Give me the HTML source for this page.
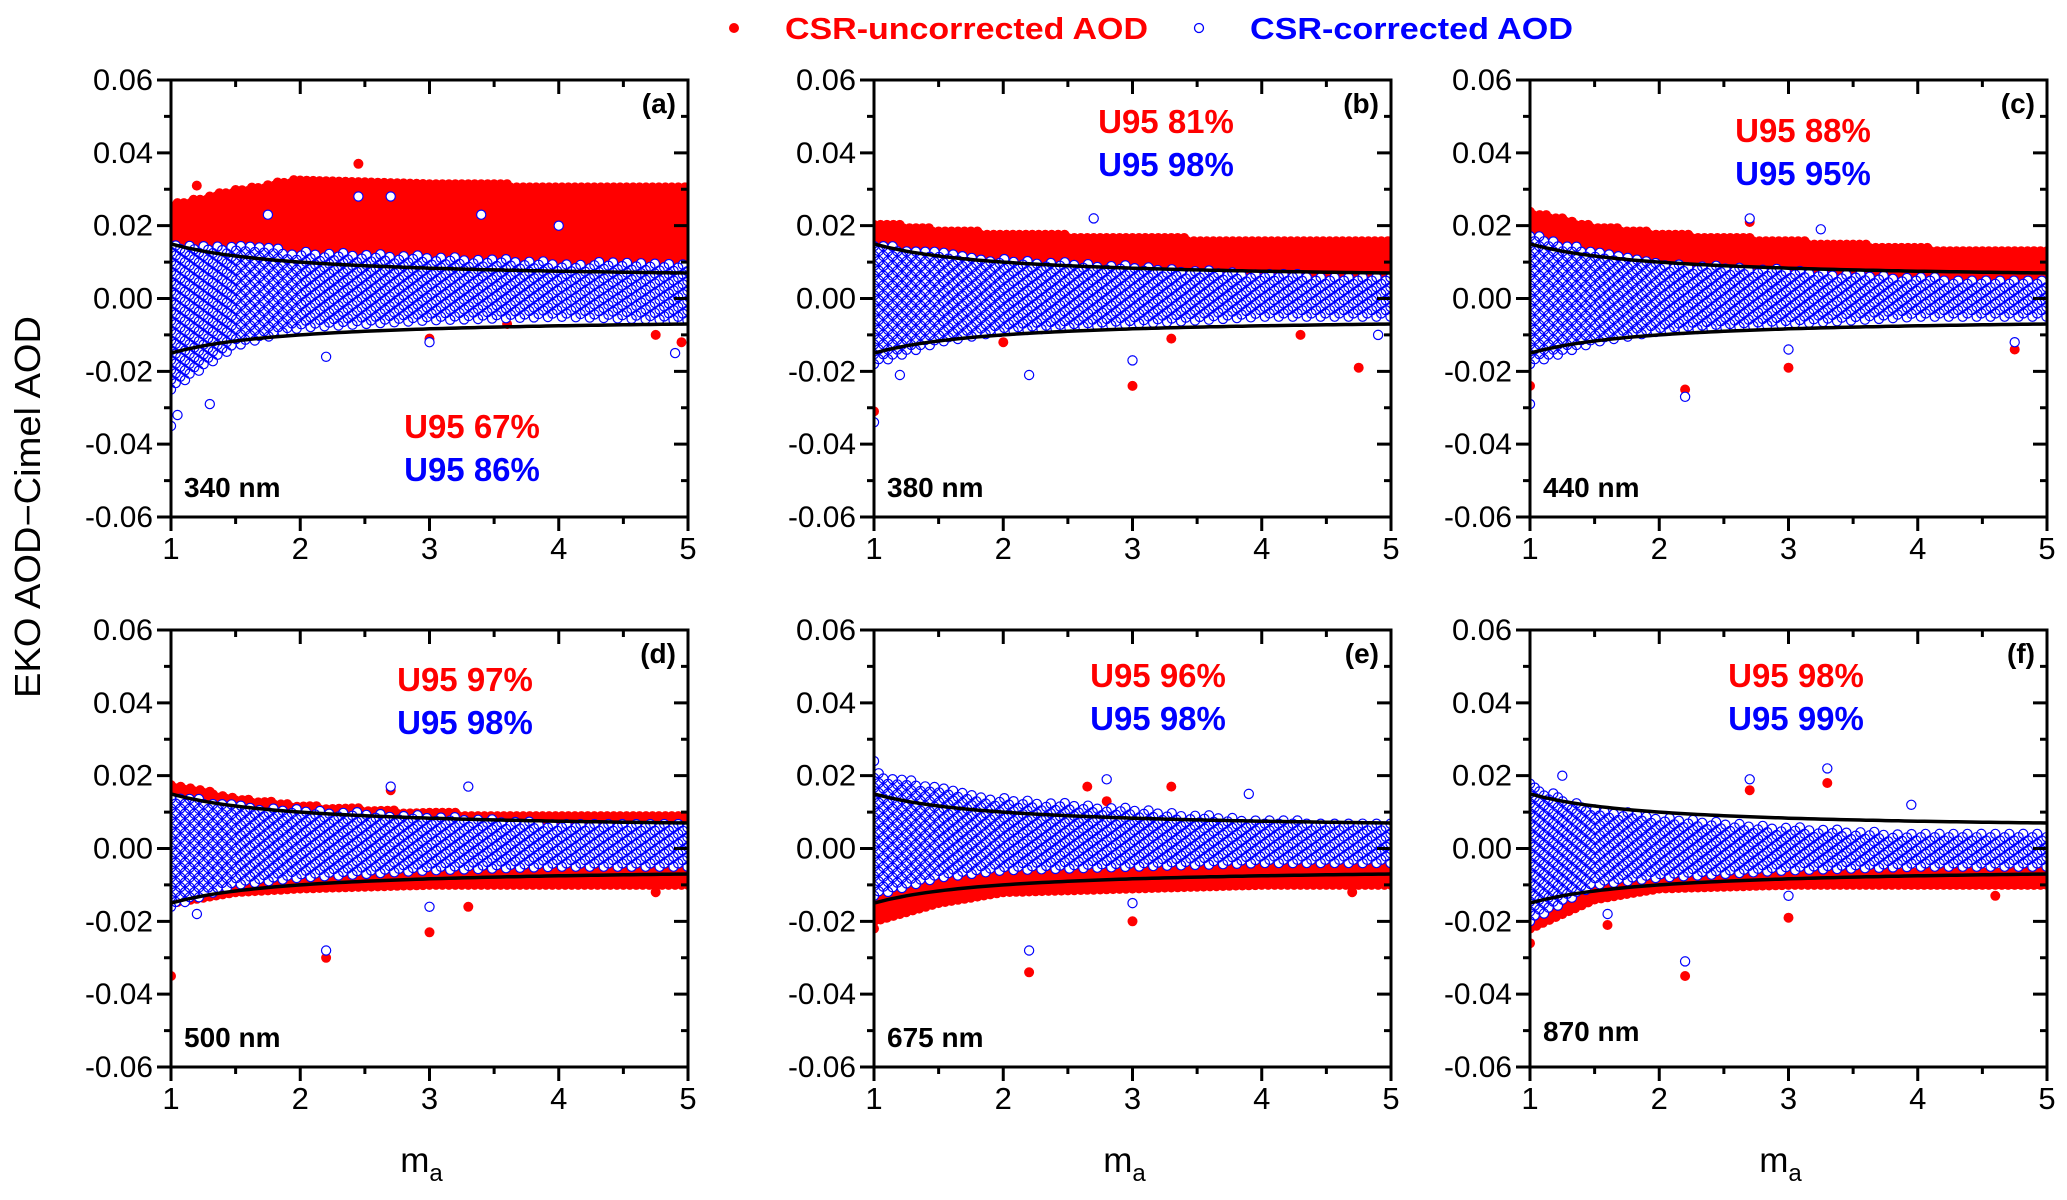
<!DOCTYPE html>
<html><head><meta charset="utf-8">
<style>
html,body{margin:0;padding:0;background:#fff;}
svg{display:block;font-family:"Liberation Sans Narrow","Liberation Sans",sans-serif;}
</style></head>
<body>
<svg id="fig" width="2067" height="1200" viewBox="0 0 2067 1200" xmlns="http://www.w3.org/2000/svg">
  <g>
    <circle cx="734" cy="28" r="5" fill="#ff0000"/>
    <text x="785" y="39" font-size="31" font-weight="bold" fill="#ff0000" textLength="363" lengthAdjust="spacingAndGlyphs">CSR-uncorrected AOD</text>
    <circle cx="1199" cy="28" r="4.5" fill="#fff" stroke="#0000ff" stroke-width="1.3"/>
    <text x="1250" y="39" font-size="31" font-weight="bold" fill="#0000ff" textLength="323" lengthAdjust="spacingAndGlyphs">CSR-corrected AOD</text>
  </g>
  <text transform="translate(40,507) rotate(-90)" text-anchor="middle" font-size="36" fill="#000" textLength="382" lengthAdjust="spacingAndGlyphs">EKO AOD−Cimel AOD</text>
  <g id="panels"></g>
</svg>
<script>
// ---- data ----
const maGrid = [1, 1.5, 2, 3, 4, 5];
const yTicks = [-0.06, -0.04, -0.02, 0.00, 0.02, 0.04, 0.06];
const yTickLabels = ["-0.06", "-0.04", "-0.02", "0.00", "0.02", "0.04", "0.06"];
const xTicks = [1, 2, 3, 4, 5];
const xTickLabels = ["1", "2", "3", "4", "5"];
const panelLetters = ["(a)", "(b)", "(c)", "(d)", "(e)", "(f)"];
const wavelengths = ["340 nm", "380 nm", "440 nm", "500 nm", "675 nm", "870 nm"];
const u95Uncorrected = ["U95 67%", "U95 81%", "U95 88%", "U95 97%", "U95 96%", "U95 98%"];
const u95Corrected = ["U95 86%", "U95 98%", "U95 95%", "U95 98%", "U95 98%", "U95 99%"];
// envelope of the red (uncorrected) cloud at maGrid
const redTop = [
  [0.026, 0.030, 0.033, 0.032, 0.031, 0.031],
  [0.021, 0.019, 0.018, 0.017, 0.016, 0.016],
  [0.024, 0.020, 0.018, 0.016, 0.014, 0.013],
  [0.018, 0.014, 0.012, 0.010, 0.009, 0.009],
  [0.002, 0.001, 0.000, -0.001, -0.001, -0.001],
  [-0.004, -0.005, -0.006, -0.006, -0.006, -0.006]];
const redBot = [
  [0.010, 0.010, 0.009, 0.008, 0.008, 0.008],
  [0.004, 0.004, 0.004, 0.004, 0.004, 0.004],
  [0.004, 0.004, 0.004, 0.004, 0.004, 0.004],
  [-0.015, -0.012, -0.011, -0.010, -0.010, -0.010],
  [-0.020, -0.015, -0.012, -0.011, -0.010, -0.010],
  [-0.022, -0.014, -0.011, -0.010, -0.010, -0.010]];
// envelope of the blue (corrected) cloud
const blueTop = [
  [0.015, 0.015, 0.013, 0.012, 0.010, 0.010],
  [0.015, 0.013, 0.011, 0.009, 0.007, 0.006],
  [0.018, 0.013, 0.010, 0.008, 0.006, 0.005],
  [0.015, 0.012, 0.011, 0.009, 0.007, 0.007],
  [0.021, 0.017, 0.014, 0.011, 0.008, 0.007],
  [0.018, 0.011, 0.009, 0.006, 0.004, 0.004]];
const blueBot = [
  [-0.025, -0.013, -0.008, -0.006, -0.005, -0.006],
  [-0.018, -0.012, -0.009, -0.007, -0.005, -0.005],
  [-0.018, -0.012, -0.009, -0.007, -0.005, -0.005],
  [-0.016, -0.010, -0.008, -0.006, -0.005, -0.005],
  [-0.013, -0.008, -0.006, -0.005, -0.004, -0.004],
  [-0.020, -0.010, -0.008, -0.006, -0.005, -0.005]];
// scattered outliers [ma, value]
const redOutliers = [
  [[2.2,-0.007],[3.0,-0.011],[3.6,-0.007],[4.75,-0.010],[4.95,-0.012],[1.2,0.031],[2.45,0.037]],
  [[1.0,-0.031],[3.0,-0.024],[4.75,-0.019],[2.0,-0.012],[3.3,-0.011],[4.3,-0.010]],
  [[1.0,-0.024],[2.2,-0.025],[3.0,-0.019],[4.75,-0.014],[2.7,0.021]],
  [[1.0,-0.035],[2.2,-0.030],[3.0,-0.023],[3.3,-0.016],[4.75,-0.012],[2.7,0.016]],
  [[1.0,-0.022],[2.2,-0.034],[3.0,-0.020],[2.65,0.017],[2.8,0.013],[3.3,0.017],[4.7,-0.012]],
  [[1.0,-0.026],[2.2,-0.035],[3.0,-0.019],[3.3,0.018],[2.7,0.016],[1.6,-0.021],[4.6,-0.013]]];
const blueOutliers = [
  [[1.0,-0.035],[1.05,-0.032],[1.3,-0.029],[2.2,-0.016],[3.0,-0.012],[4.9,-0.015],[2.45,0.028],[2.7,0.028],[3.4,0.023],[1.75,0.023],[4.0,0.020]],
  [[1.0,-0.034],[2.2,-0.021],[3.0,-0.017],[2.7,0.022],[1.2,-0.021],[4.9,-0.010]],
  [[1.0,-0.029],[2.2,-0.027],[3.0,-0.014],[2.7,0.022],[3.25,0.019],[4.75,-0.012]],
  [[2.2,-0.028],[3.0,-0.016],[2.7,0.017],[3.3,0.017],[1.2,-0.018]],
  [[2.2,-0.028],[2.8,0.019],[3.9,0.015],[1.0,0.024],[3.0,-0.015]],
  [[2.2,-0.031],[3.3,0.022],[2.7,0.019],[3.95,0.012],[1.6,-0.018],[1.25,0.020],[3.0,-0.013]]];
// U95 reference limits ±(a + b/ma)
const limitA = [0.005];
const limitB = [0.010];

// ---- layout ----
const colX = [171, 874, 1530], rowY = [80, 630], PW = 517, PH = 437;
const NS = "http://www.w3.org/2000/svg";
const root = document.getElementById('panels');
function mk(tag, attrs, parent) {
  const e = document.createElementNS(NS, tag);
  for (const k in attrs) e.setAttribute(k, attrs[k]);
  parent.appendChild(e); return e;
}
function interp(arr, m) {
  for (let i = 0; i < maGrid.length - 1; i++) {
    if (m <= maGrid[i + 1]) { const t = (m - maGrid[i]) / (maGrid[i + 1] - maGrid[i]); return arr[i] + t * (arr[i + 1] - arr[i]); }
  }
  return arr[arr.length - 1];
}
function circ(cx, cy, r) {
  return `M${(cx - r).toFixed(1)},${cy.toFixed(1)}a${r},${r} 0 1,0 ${2 * r},0a${r},${r} 0 1,0 ${-2 * r},0`;
}
const u95Off = [[301, 346], [292, 41], [273, 50], [294, 49], [284, 45], [266, 45]];

for (let p = 0; p < 6; p++) {
  const x0 = colX[p % 3], y0 = rowY[Math.floor(p / 3)];
  const X = m => x0 + (m - 1) / 4 * PW;
  const Y = v => y0 + (0.06 - v) / 0.12 * PH;
  const g = mk('g', {}, root);
  
  
  const clip = mk('clipPath', { id: 'c' + p }, g);
  mk('rect', { x: x0, y: y0, width: PW, height: PH }, clip);
  const data = mk('g', { 'clip-path': 'url(#c' + p + ')' }, g);
  let dr = '', db = '';
  const r = 5;
  let col = 0;
  for (let m = 1; m <= 5.001; m += 0.025, col++) {
    const off = (col % 2) * 0.0009;
    const t1 = interp(redTop[p], m), b1 = interp(redBot[p], m);
    for (let v = b1 + off; v <= t1; v += 0.0018) dr += circ(X(m), Y(v), r);
  }
  redOutliers[p].forEach(o => { dr += circ(X(o[0]), Y(o[1]), r); });
  const rp = mk('path', { d: dr, fill: '#ff0000' }, data);
  
  
  col = 0;
  const rb = 4.6;
  for (let m = 1; m <= 5.001; m += 0.036, col++) {
    const off = (col % 3) * 0.0009;
    const t1 = interp(blueTop[p], m), b1 = interp(blueBot[p], m);
    for (let v = b1 + off; v <= t1; v += 0.0027) db += circ(X(m), Y(v), rb);
  }
  blueOutliers[p].forEach(o => { db += circ(X(o[0]), Y(o[1]), rb); });
  const bp = mk('path', { d: db, fill: '#fff', stroke: '#0000ff', 'stroke-width': 1.2 }, data);
  
  
  [1, -1].forEach(s => {
    let d = '';
    for (let m = 1; m <= 5.001; m += 0.05) d += (d ? 'L' : 'M') + X(m).toFixed(1) + ',' + Y(s * (limitA[0] + limitB[0] / m)).toFixed(1);
    const l = mk('path', { d: d, fill: 'none', stroke: '#000', 'stroke-width': 3.5 }, data);
    
    
  });
  const fr = mk('rect', { x: x0, y: y0, width: PW, height: PH, fill: 'none', stroke: '#000', 'stroke-width': 3 }, g);
  
  
  let td = '';
  yTicks.forEach((v, i) => {
    const y = Y(v);
    td += `M${x0 - 14},${y}H${x0}M${x0 + PW},${y}h-14`;
    if (i < yTicks.length - 1) { const ym = Y(v + 0.01); td += `M${x0 - 7},${ym}H${x0}M${x0 + PW},${ym}h-7`; }
    const t = mk('text', { x: x0 - 18, y: y + 10, 'text-anchor': 'end', 'font-size': 30, textLength: (yTickLabels[i][0] === '-' ? 68 : 60), lengthAdjust: 'spacingAndGlyphs' }, g);
    t.textContent = yTickLabels[i];
    
    
  });
  xTicks.forEach((m, i) => {
    const x = X(m);
    td += `M${x},${y0 + PH}v14M${x},${y0}v14`;
    if (i < xTicks.length - 1) { const xm = X(m + 0.5); td += `M${xm},${y0 + PH}v7M${xm},${y0}v7`; }
    const t = mk('text', { x: x, y: y0 + PH + 42, 'text-anchor': 'middle', 'font-size': 31 }, g);
    t.textContent = xTickLabels[i];
    
    
  });
  const tk = mk('path', { d: td, stroke: '#000', 'stroke-width': 3, fill: 'none' }, g);
  
  
  const lt = mk('text', { x: x0 + PW - 12, y: y0 + 33, 'text-anchor': 'end', 'font-size': 28, 'font-weight': 'bold' }, g);
  lt.textContent = panelLetters[p];
  
  
  const wl = mk('text', { x: x0 + 13, y: y0 + PH - (p === 5 ? 26 : 20), 'font-size': 28, 'font-weight': 'bold' }, g);
  wl.textContent = wavelengths[p];
  
  
  const uo = u95Off[p];
  const u1 = mk('text', { x: x0 + uo[0], y: y0 + uo[1] + 12, 'text-anchor': 'middle', 'font-size': 33, 'font-weight': 'bold', fill: '#ff0000' }, g);
  u1.textContent = u95Uncorrected[p];
  
  
  const u2 = mk('text', { x: x0 + uo[0], y: y0 + uo[1] + 55, 'text-anchor': 'middle', 'font-size': 33, 'font-weight': 'bold', fill: '#0000ff' }, g);
  u2.textContent = u95Corrected[p];
  
  
  if (p >= 3) {
    const xl = mk('text', { x: x0 + PW / 2 - 8, y: 1172, 'text-anchor': 'middle', 'font-size': 35 }, g);
    xl.innerHTML = 'm<tspan font-size="24" dy="9">a</tspan>';
    
    
  }
}
</script>
</body></html>
